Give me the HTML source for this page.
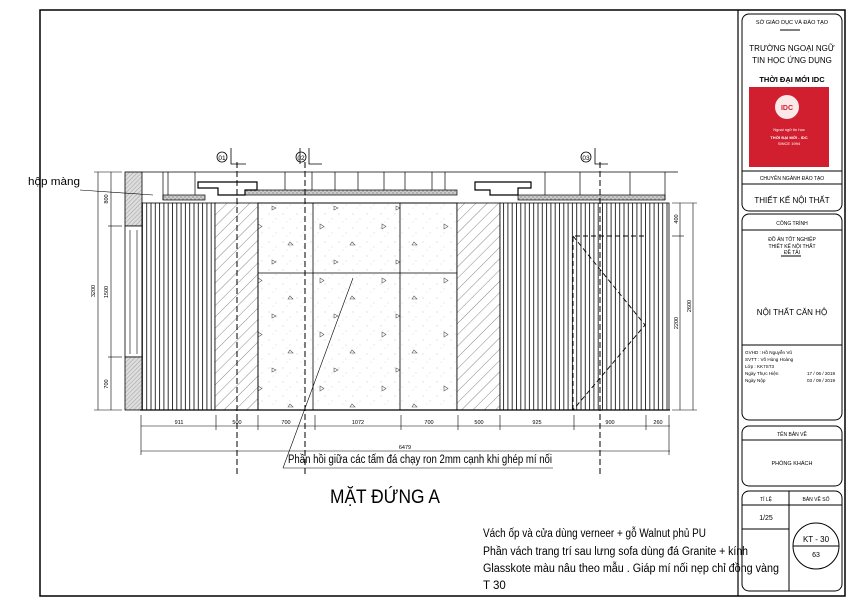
<!DOCTYPE html>
<html><head><meta charset="utf-8"><style>
body{margin:0;background:#fff}
svg{display:block}
text{font-family:"Liberation Sans",sans-serif;fill:#000}
</style></head><body>
<svg width="850" height="601" viewBox="0 0 850 601" xmlns="http://www.w3.org/2000/svg">
<defs>
<pattern id="vs" width="4.3" height="10" patternUnits="userSpaceOnUse"><rect width="4.3" height="10" fill="#fff"/><line x1="0.5" y1="0" x2="0.5" y2="10" stroke="#000" stroke-width="0.8"/></pattern>
<pattern id="hat" width="8" height="8" patternUnits="userSpaceOnUse" patternTransform="rotate(45)"><rect width="8" height="8" fill="#fff"/><line x1="0" y1="0" x2="0" y2="8" stroke="#555" stroke-width="0.7"/></pattern>
<pattern id="cross" width="3" height="3" patternUnits="userSpaceOnUse" patternTransform="rotate(45)"><rect width="3" height="3" fill="#ddd"/><line x1="0" y1="0" x2="0" y2="3" stroke="#777" stroke-width="0.6"/></pattern>
<pattern id="dots" width="14" height="14" patternUnits="userSpaceOnUse"><rect width="14" height="14" fill="#fff"/><circle cx="3" cy="4" r="0.45" fill="#aaa"/><circle cx="10" cy="9" r="0.45" fill="#bbb"/><circle cx="7" cy="12" r="0.4" fill="#aaa"/></pattern>
<pattern id="tri" width="62" height="54" patternUnits="userSpaceOnUse"><path d="M10 8 l4 2.5 l-4 2.5z M42 26 l3 3 l-5 0z M24 44 l4 2 l-4 2z" fill="none" stroke="#555" stroke-width="0.6"/></pattern>
<pattern id="strip" width="4" height="4" patternUnits="userSpaceOnUse"><rect width="4" height="4" fill="#ccc"/><circle cx="1" cy="1" r="0.6" fill="#666"/><circle cx="3" cy="3" r="0.6" fill="#666"/></pattern>
</defs>

<rect x="40" y="10" width="805" height="586" fill="none" stroke="#000" stroke-width="1.5"/>
<line x1="738" y1="10" x2="738" y2="596" stroke="#000" stroke-width="1.2"/>

<g fill="none" stroke="#000" stroke-width="1">
<rect x="742" y="14" width="100" height="197" rx="7"/>
<rect x="742" y="214" width="100" height="206" rx="7"/>
<rect x="742" y="426" width="100" height="60" rx="7"/>
<rect x="742" y="491" width="100" height="100" rx="7"/>
<line x1="742" y1="171" x2="842" y2="171"/><line x1="742" y1="184" x2="842" y2="184"/>
<line x1="742" y1="230" x2="842" y2="230"/><line x1="742" y1="345" x2="842" y2="345"/>
<line x1="742" y1="440" x2="842" y2="440"/>
<line x1="742" y1="505" x2="842" y2="505"/>
<line x1="789" y1="491" x2="789" y2="591"/><line x1="742" y1="529" x2="789" y2="529"/>
<circle cx="816" cy="546" r="23"/><line x1="793" y1="546" x2="839" y2="546"/>
<line x1="780" y1="30" x2="800" y2="30"/><line x1="781" y1="256" x2="801" y2="256"/>
</g>
<g font-size="6" text-anchor="middle">
<text x="792" y="24" font-size="5.5">SỞ GIÁO DỤC VÀ ĐÀO TẠO</text>
<text x="792" y="51" font-size="8">TRƯỜNG NGOẠI NGỮ</text>
<text x="792" y="63" font-size="8">TIN HỌC ỨNG DỤNG</text>
<text x="792" y="82" font-size="7.5" font-weight="bold">THỜI ĐẠI MỚI IDC</text>
</g>
<rect x="749" y="87" width="80" height="80" fill="#d21f2f"/>
<circle cx="787" cy="107" r="12" fill="#fff" opacity="0.9"/>
<text x="787" y="110" font-size="7" text-anchor="middle" style="fill:#d21f2f;font-weight:bold">IDC</text>
<g text-anchor="middle" font-size="4">
<text x="789" y="131" style="fill:#fff">Ngoại ngữ tin học</text>
<text x="789" y="139" style="fill:#fff" font-weight="bold">THỜI ĐẠI MỚI - IDC</text>
<text x="789" y="145" style="fill:#fff">SINCE 1994</text>
</g>
<g text-anchor="middle">
<text x="792" y="180" font-size="5">CHUYÊN NGÀNH ĐÀO TẠO</text>
<text x="792" y="203" font-size="8">THIẾT KẾ NỘI THẤT</text>
<text x="792" y="225" font-size="5">CÔNG TRÌNH</text>
<text x="792" y="241" font-size="5">ĐỒ ÁN TỐT NGHIỆP</text>
<text x="792" y="248" font-size="5">THIẾT KẾ NỘI THẤT</text>
<text x="792" y="254" font-size="5">ĐỀ TÀI</text>
<text x="792" y="315" font-size="8">NỘI THẤT CĂN HỘ</text>
<text x="792" y="436" font-size="5">TÊN BẢN VẼ</text>
<text x="792" y="465" font-size="5.5">PHÒNG KHÁCH</text>
<text x="766" y="501" font-size="5">TỈ LỆ</text>
<text x="816" y="501" font-size="5">BẢN VẼ SỐ</text>
<text x="766" y="520" font-size="7">1/25</text>
<text x="816" y="542" font-size="8">KT - 30</text>
<text x="816" y="557" font-size="7">63</text>
</g>
<g font-size="4.6">
<text x="745" y="354">GVHD  : Hồ Nguyễn Vũ</text>
<text x="745" y="361">SVTT  : Võ Hùng Hoàng</text>
<text x="745" y="368">Lớp     : KK7ST3</text>
<text x="745" y="375">Ngày Thực Hiện</text><text x="807" y="375">17 / 06 / 2019</text>
<text x="745" y="382">Ngày Nộp</text><text x="807" y="382">03 / 09 / 2019</text>
</g>

<rect x="125" y="172" width="17" height="54" fill="url(#cross)" stroke="#000" stroke-width="0.8"/>
<rect x="125" y="226" width="17" height="131" fill="#fff" stroke="#000" stroke-width="0.8"/>
<line x1="130" y1="230" x2="130" y2="354" stroke="#000" stroke-width="0.6"/><line x1="137" y1="230" x2="137" y2="354" stroke="#000" stroke-width="0.6"/>
<rect x="125" y="357" width="17" height="53" fill="url(#cross)" stroke="#000" stroke-width="0.8"/>

<g stroke="#000" stroke-width="0.7" fill="none">
<line x1="142" y1="172" x2="678" y2="172"/>
<rect x="163" y="195" width="42" height="5" fill="url(#strip)"/>
<rect x="245" y="190" width="212" height="5" fill="url(#strip)"/>
<rect x="518" y="195" width="147" height="5" fill="url(#strip)"/>
<path d="M198 182 H257 V190 H245 V195 H218 V188 H198Z" fill="#fff" stroke-width="1.2"/>
<path d="M475 182 H531 V188 H518 V195 H490 V190 H475Z" fill="#fff" stroke-width="1.2"/>
<line x1="163" y1="172" x2="163" y2="200"/><line x1="168" y1="172" x2="168" y2="195"/>
<line x1="195" y1="172" x2="195" y2="195"/><line x1="285" y1="172" x2="285" y2="190"/>
<line x1="312" y1="172" x2="312" y2="190"/><line x1="335" y1="172" x2="335" y2="190"/>
<line x1="358" y1="172" x2="358" y2="190"/><line x1="384" y1="172" x2="384" y2="190"/>
<line x1="405" y1="172" x2="405" y2="190"/><line x1="432" y1="172" x2="432" y2="190"/>
<line x1="445" y1="172" x2="445" y2="190"/><line x1="545" y1="172" x2="545" y2="195"/>
<line x1="580" y1="172" x2="580" y2="195"/><line x1="630" y1="172" x2="630" y2="195"/>
<line x1="665" y1="172" x2="665" y2="200"/>
</g>

<g stroke="#000" stroke-width="0.8">
<rect x="142" y="203" width="73" height="207" fill="url(#vs)"/>
<rect x="215" y="203" width="43" height="207" fill="url(#hat)"/>
<rect x="258" y="203" width="199" height="207" fill="url(#dots)"/>
<rect x="258" y="203" width="199" height="207" fill="url(#tri)"/>
<line x1="313" y1="203" x2="313" y2="410"/><line x1="400" y1="203" x2="400" y2="410"/>
<line x1="258" y1="273" x2="457" y2="273"/>
<rect x="457" y="203" width="43" height="207" fill="url(#hat)"/>
<rect x="500" y="203" width="169" height="207" fill="url(#vs)"/>
</g>
<line x1="140" y1="410" x2="670" y2="410" stroke="#000" stroke-width="1.2"/>
<g fill="none" stroke="#000" stroke-width="0.9" stroke-dasharray="5,3">
<path d="M573 410 V236 H645"/>
<path d="M573 236 L645 325 L573 410"/>
</g>

<g stroke="#000" stroke-width="1" stroke-dasharray="6,3">
<line x1="237" y1="162" x2="237" y2="475"/><line x1="305" y1="162" x2="305" y2="475"/><line x1="600" y1="162" x2="600" y2="475"/>
</g>
<g fill="none" stroke="#000" stroke-width="0.8">
<circle cx="222" cy="157" r="5"/><circle cx="301" cy="157" r="5"/><circle cx="586" cy="157" r="5"/>
<path d="M231 148 V164 H246 M300 148 V164 M309 148 V164 H322 M595 148 V164 H608"/>
</g>
<g font-size="6.5" text-anchor="middle"><text x="222" y="160">01</text><text x="301" y="160">02</text><text x="586" y="160">03</text></g>

<g stroke="#000" stroke-width="0.6">
<line x1="141" y1="426" x2="670" y2="426"/><line x1="141" y1="451" x2="670" y2="451"/>
<line x1="141" y1="415" x2="141" y2="455"/><line x1="216" y1="415" x2="216" y2="430"/><line x1="258" y1="415" x2="258" y2="430"/><line x1="315" y1="415" x2="315" y2="430"/><line x1="401" y1="415" x2="401" y2="430"/><line x1="458" y1="415" x2="458" y2="430"/><line x1="500" y1="415" x2="500" y2="430"/><line x1="574" y1="415" x2="574" y2="430"/><line x1="646" y1="415" x2="646" y2="430"/><line x1="669" y1="415" x2="669" y2="455"/>
</g>
<g font-size="5.5" text-anchor="middle">
<text x="179" y="424">911</text><text x="237" y="424">500</text><text x="286" y="424">700</text><text x="358" y="424">1072</text><text x="429" y="424">700</text><text x="479" y="424">500</text><text x="537" y="424">925</text><text x="610" y="424">900</text><text x="658" y="424">260</text>
<text x="405" y="449">6479</text>
</g>

<g stroke="#000" stroke-width="0.6">
<line x1="98" y1="172" x2="98" y2="410"/><line x1="111" y1="172" x2="111" y2="410"/>
<line x1="94" y1="172" x2="122" y2="172"/><line x1="108" y1="226" x2="122" y2="226"/><line x1="108" y1="357" x2="122" y2="357"/><line x1="94" y1="410" x2="122" y2="410"/>
</g>
<g font-size="5.5" text-anchor="middle">
<text transform="translate(108,199) rotate(-90)">800</text>
<text transform="translate(108,292) rotate(-90)">1500</text>
<text transform="translate(108,384) rotate(-90)">700</text>
<text transform="translate(95,291) rotate(-90)">3200</text>
</g>
<g stroke="#000" stroke-width="0.6">
<line x1="680" y1="203" x2="680" y2="410"/><line x1="693" y1="203" x2="693" y2="410"/>
<line x1="672" y1="203" x2="697" y2="203"/><line x1="672" y1="236" x2="684" y2="236"/><line x1="672" y1="410" x2="697" y2="410"/>
</g>
<g font-size="5.5" text-anchor="middle">
<text transform="translate(678,219) rotate(-90)">400</text>
<text transform="translate(678,323) rotate(-90)">2200</text>
<text transform="translate(691,306) rotate(-90)">2600</text>
</g>

<text x="28" y="185" font-size="11" textLength="52" lengthAdjust="spacingAndGlyphs">hộp màng</text>
<line x1="80" y1="190" x2="153" y2="195" stroke="#000" stroke-width="0.6"/>
<line x1="353" y1="278" x2="283" y2="468" stroke="#000" stroke-width="0.6"/>
<text x="288" y="463" font-size="11.5" textLength="264" lengthAdjust="spacingAndGlyphs">Phần hồi giữa các tấm đá chạy ron 2mm cạnh khi ghép mí nối</text>
<line x1="283" y1="468" x2="553" y2="468" stroke="#000" stroke-width="0.6"/>
<text x="330" y="503" font-size="19" textLength="110" lengthAdjust="spacingAndGlyphs">MẶT ĐỨNG  A</text>
<g font-size="11.5">
<text x="483" y="537" textLength="223" lengthAdjust="spacingAndGlyphs">Vách ốp và cửa dùng verneer + gỗ Walnut phủ PU</text>
<text x="483" y="555" textLength="265" lengthAdjust="spacingAndGlyphs">Phần vách trang trí sau lưng sofa dùng đá Granite + kính</text>
<text x="483" y="572" textLength="296" lengthAdjust="spacingAndGlyphs">Glasskote màu nâu theo mẫu . Giáp mí nối nẹp chỉ đồng vàng</text>
<text x="483" y="589">T 30</text>
</g>
</svg>
</body></html>
